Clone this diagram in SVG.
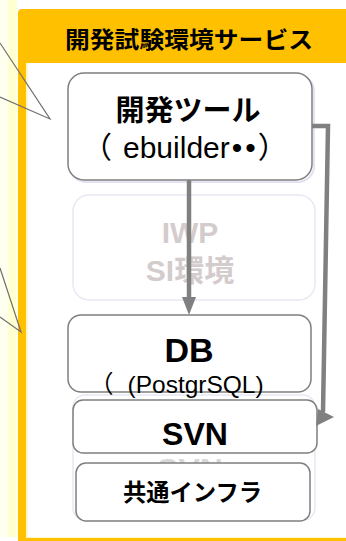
<svg xmlns="http://www.w3.org/2000/svg" width="346" height="541" viewBox="0 0 346 541">
<defs>
<style>
.box{fill:#ffffff;stroke:#7f7f7f;stroke-width:1.5}
.shadow{fill:none;stroke:#e2e2f2;stroke-width:2}
.ghost{fill:#ffffff;stroke:#e8e8f4;stroke-width:1.5}
.jp{font-family:"Noto Sans CJK JP","Liberation Sans",sans-serif;font-weight:700;fill:#000}
.en{font-family:"Liberation Sans","Noto Sans CJK JP",sans-serif;fill:#000}
.cjk{font-family:"Noto Sans CJK JP",sans-serif}
.b{font-weight:700}
.faded{fill:#d4cccc}
.conn{fill:none;stroke:#808080;stroke-width:4.5}
.head{fill:#808080}
.call{fill:none;stroke:#707070;stroke-width:1.2}
</style>
</defs>
<rect x="0" y="0" width="346" height="541" fill="#ffffff"/>
<g id="strip">
<rect x="0" y="0" width="8" height="537" fill="#fffff0"/>
<rect x="8" y="0" width="9" height="537" fill="#ffffd2"/>
</g>
<g id="service-frame">
<rect x="18" y="9" width="340" height="540" rx="4" fill="#ffc000"/>
<rect x="26" y="63" width="332" height="475" fill="#fff6cc"/>
<rect x="28" y="63" width="330" height="474" fill="#ffffff"/>
<text class="jp" x="189" y="48" font-size="23" text-anchor="middle" textLength="248" lengthAdjust="spacingAndGlyphs">開発試験環境サービス</text>
</g>
<g id="callouts">
<polyline class="call" points="0,43 50,119 0,97"/>
<polyline class="call" points="0,268 21,332 0,317"/>
</g>
<g id="iwp">
<rect class="ghost" x="73" y="195" width="242" height="105" rx="16"/>
<text class="en b faded" x="190" y="243" font-size="30" text-anchor="middle">IWP</text>
<text class="en b faded" x="190" y="281" font-size="30" text-anchor="middle">SI<tspan class="cjk">環境</tspan></text>
</g>
<g id="ghost-svn">
<rect class="ghost" x="73" y="395" width="242" height="125" rx="12"/>
<text class="en b" style="fill:#d8d8d8" x="190" y="481" font-size="32" text-anchor="middle">SVN</text>
</g>
<g id="dev-tools">
<rect class="shadow" x="70" y="75" width="244" height="107" rx="16"/>
<rect class="box" x="68" y="73" width="244" height="107" rx="16"/>
<text class="jp" x="188" y="121" font-size="29" text-anchor="middle" textLength="145" lengthAdjust="spacingAndGlyphs">開発ツール</text>
<text class="en" x="82" y="158" font-size="30"><tspan class="cjk">（</tspan><tspan dx="11">ebuilder</tspan><tspan dx="2">•</tspan><tspan dx="3">•</tspan><tspan class="cjk" dx="2">）</tspan></text>
</g>
<g id="db">
<rect class="box" x="68" y="315" width="243" height="77" rx="13"/>
<text class="en b" x="189" y="362" font-size="34" text-anchor="middle">DB</text>
</g>
<g id="svn">
<rect class="box" x="73" y="400" width="244" height="53" rx="10"/>
<text class="en b" x="195" y="445" font-size="32" text-anchor="middle">SVN</text>
</g>
<g id="db-label">
<text class="en" x="89" y="393" font-size="24.5"><tspan class="cjk">（</tspan><tspan dx="14">(PostgrSQL)</tspan></text>
</g>
<g id="infra">
<rect class="box" x="76" y="463" width="234" height="58" rx="10"/>
<text class="jp" x="192.5" y="501" font-size="23.5" text-anchor="middle" textLength="139" lengthAdjust="spacingAndGlyphs">共通インフラ</text>
</g>
<g id="connectors">
<line class="conn" x1="189" y1="180" x2="189" y2="299"/>
<polygon class="head" points="182,297 196,297 189,315"/>
<polyline class="conn" stroke-linejoin="miter" points="312,126 328,126 323,412"/>
<polygon class="head" points="318,409 334,417 316,426"/>
</g>
</svg>
